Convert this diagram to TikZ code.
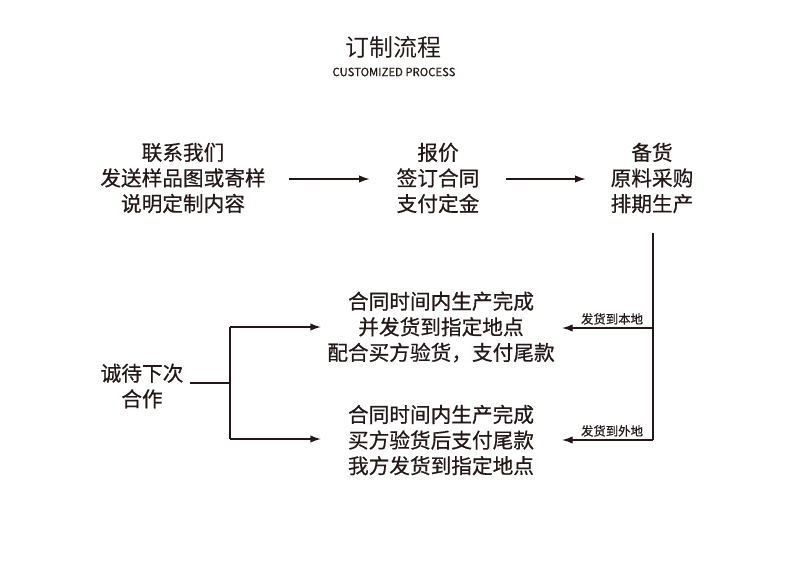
\documentclass[tikz,border=0pt]{standalone}
\usepackage{fontspec}
\setmainfont{Noto Sans CJK SC}
\newfontfamily\medfont{Noto Sans CJK SC}[FakeBold=0.5]
\usetikzlibrary{arrows.meta}
\definecolor{ink}{HTML}{231815}

\begin{document}
\begin{tikzpicture}[x=0.75pt,y=-0.75pt,
  step node/.style={align=center,text=ink,inner sep=2pt,
    font=\medfont\fontsize{15.5}{19.2}\selectfont},
  ship label/.style={above,text=ink,inner sep=2pt,
    font=\medfont\fontsize{9.3}{11}\selectfont},
  flow/.style={draw=ink,line width=1pt,-{Latex[length=8pt,width=5.5pt]}},
  wire/.style={draw=ink,line width=1pt}]

  \useasboundingbox (0,0) rectangle (790,568);

  % title
  \node[text=ink,font=\fontsize{18}{20}\selectfont] (title) at (393,47) {订制流程};
  \node[text=ink,font=\medfont\fontsize{8.5}{10}\selectfont] (sub) at (394,72) {CUSTOMIZED PROCESS};

  % top row
  \node[step node] (1) at (183,178) {联系我们\\发送样品图或寄样\\说明定制内容};
  \node[step node] (2) at (438,178) {报价\\签订合同\\支付定金};
  \node[step node] (3) at (652,178) {备货\\原料采购\\排期生产};

  % bottom row
  \node[step node] (4) at (441,327) {合同时间内生产完成\\并发货到指定地点\\配合买方验货，支付尾款};
  \node[step node] (5) at (441,440) {合同时间内生产完成\\买方验货后支付尾款\\我方发货到指定地点};
  \node[step node] (6) at (142,386) {诚待下次\\合作};

  \coordinate (top) at (653,233);
  \coordinate (r1) at (653,328);
  \coordinate (r2) at (653,440);
  \coordinate (e1) at (562,328);
  \coordinate (e2) at (562,440);
  \coordinate (j) at (230,383);
  \coordinate (j1) at (230,327);
  \coordinate (j2) at (230,439);
  \coordinate (w1) at (321,327);
  \coordinate (w2) at (321,439);

  \path (1.east) ++(20,1) coordinate (a1) (2.west) ++(-24,1) coordinate (b1);
  \draw[flow] (a1) -- (b1);
  \path (2.east) ++(24,1) coordinate (a2) (3.west) ++(-22,1) coordinate (b2);
  \draw[flow] (a2) -- (b2);

  % shipping
  \draw[wire] (top) -- (r2);
  \draw[flow] (r1) -- node[ship label,pos=0.45]{发货到本地} (e1);
  \draw[flow] (r2) -- node[ship label,pos=0.45]{发货到外地} (e2);

  % next time
  \draw[wire] (6.east |- j) ++(4,0) -- (j);
  \draw[wire] (j1) -- (j2);
  \draw[flow] (j1) -- (w1);
  \draw[flow] (j2) -- (w2);
\end{tikzpicture}
\end{document}
